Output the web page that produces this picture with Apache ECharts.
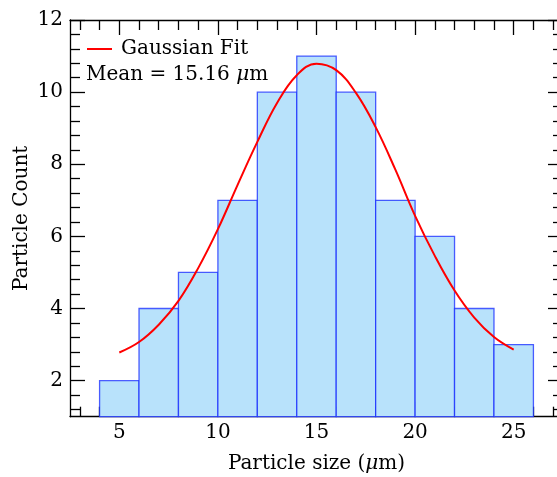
<!DOCTYPE html>
<html>
<head>
<meta charset="utf-8">
<script src="https://cdn.jsdelivr.net/npm/echarts@6/dist/echarts.min.js"></script>
<style>html,body{margin:0;padding:0;background:#fff}#c{width:557px;height:477px}</style>
</head>
<body>
<div id="c"></div>
<script>
// ---- data ----
var binStarts = [4, 6, 8, 10, 12, 14, 16, 18, 20, 22, 24];
var binWidth = 2;
var counts = [2, 4, 5, 7, 10, 11, 10, 7, 6, 4, 3];
var fitX = [5, 6, 7, 8, 9, 10, 11, 12, 13, 14, 15, 16, 17, 18, 19, 20, 21, 22, 23, 24, 25];
var fitY = [2.78, 3.07, 3.55, 4.21, 5.12, 6.2, 7.43, 8.62, 9.7, 10.47, 10.79, 10.61, 9.98, 9.03, 7.85, 6.57, 5.46, 4.5, 3.75, 3.21, 2.86];
var xMajorTicks = [5, 10, 15, 20, 25];
var xMinorTicks = [3, 4, 6, 7, 8, 9, 11, 12, 13, 14, 16, 17, 18, 19, 21, 22, 23, 24, 26, 27];
var yMajorTicks = [2, 4, 6, 8, 10, 12];
var yMinorTicks = [1.2, 1.6, 2.4, 2.8, 3.2, 3.6, 4.4, 4.8, 5.2, 5.6, 6.4, 6.8, 7.2, 7.6, 8.4, 8.8, 9.2, 9.6, 10.4, 10.8, 11.2, 11.6];
var xRange = [2.5, 27.5];
var yRange = [1, 12];
var meanText = 'Mean = 15.16 ';

var FONT = 'DejaVu Serif';
var chart = echarts.init(document.getElementById('c'), null, {renderer: 'canvas'});

var histData = binStarts.map(function (s, i) { return [s, s + binWidth, counts[i]]; });
var fitData = fitX.map(function (x, i) { return [x, fitY[i]]; });

function makeX(pos, ticks, len, labels, line, name) {
  var ax = {
    type: 'value', gridIndex: 0, position: pos, min: xRange[0], max: xRange[1],
    axisLine: {show: line, onZero: false, lineStyle: {color: '#000', width: 1.3}},
    axisTick: {show: true, inside: true, length: len, customValues: ticks, lineStyle: {color: '#000', width: 1.3}},
    axisLabel: {show: labels, customValues: ticks, color: '#000', fontFamily: FONT, fontSize: 20, margin: 6},
    splitLine: {show: false}
  };
  if (name) {
    ax.name = name;
    ax.nameLocation = 'middle';
    ax.nameGap = 37;
    ax.nameMoveOverlap = false;
    ax.nameTextStyle = {color: '#000', fontFamily: FONT, fontSize: 20,
      rich: {i: {fontStyle: 'italic', fontFamily: FONT, fontSize: 20, color: '#000'}}};
  }
  return ax;
}
function makeY(pos, ticks, len, labels, line, name) {
  var ax = {
    type: 'value', gridIndex: 0, position: pos, min: yRange[0], max: yRange[1],
    axisLine: {show: line, onZero: false, lineStyle: {color: '#000', width: 1.3}},
    axisTick: {show: true, inside: true, length: len, customValues: ticks, lineStyle: {color: '#000', width: 1.3}},
    axisLabel: {show: labels, customValues: ticks, color: '#000', fontFamily: FONT, fontSize: 20, margin: 7},
    splitLine: {show: false}
  };
  if (name) {
    ax.name = name;
    ax.nameLocation = 'middle';
    ax.nameGap = 38;
    ax.nameMoveOverlap = false;
    ax.nameTextStyle = {color: '#000', fontFamily: FONT, fontSize: 20};
  }
  return ax;
}

var option = {
  backgroundColor: '#fff',
  animation: false,
  grid: {left: 70, top: 20, width: 493, height: 396.7, containLabel: false, outerBoundsMode: 'none'},
  xAxis: [
    makeX('bottom', xMajorTicks, 15, true, true, 'Particle size ({i|μ}m)'),
    makeX('bottom', xMinorTicks, 10, false, false),
    makeX('top', xMajorTicks, 15, false, true),
    makeX('top', xMinorTicks, 10, false, false)
  ],
  yAxis: [
    makeY('left', yMajorTicks, 15, true, true, 'Particle Count'),
    makeY('left', yMinorTicks, 10, false, false),
    makeY('right', yMajorTicks, 15, false, true),
    makeY('right', yMinorTicks, 10, false, false)
  ],
  legend: {
    show: true, left: 87, top: 39, orient: 'vertical', padding: 0,
    icon: 'rect', itemWidth: 25, itemHeight: 2,
    textStyle: {color: '#000', fontFamily: FONT, fontSize: 20, padding: [0, 0, 0, 4]},
    data: [{name: 'Gaussian Fit', itemStyle: {color: '#ff0000'}}]
  },
  graphic: [{
    type: 'text', left: 86, top: 65,
    style: {
      text: '{n|' + meanText + '}{i|μ}{n|m}',
      rich: {
        n: {fontFamily: FONT, fontSize: 20, fill: '#000'},
        i: {fontFamily: FONT, fontSize: 20, fontStyle: 'italic', fill: '#000'}
      }
    }
  }],
  series: [
    {
      name: 'Histogram', type: 'custom', xAxisIndex: 0, yAxisIndex: 0,
      encode: {x: [0, 1], y: 2},
      data: histData, z: 2,
      renderItem: function (params, api) {
        var p0 = api.coord([api.value(0), api.value(2)]);
        var p1 = api.coord([api.value(1), yRange[0]]);
        return {
          type: 'rect',
          shape: {x: p0[0], y: p0[1], width: p1[0] - p0[0], height: p1[1] - p0[1]},
          style: {fill: '#b8e2fb', stroke: 'rgba(20,40,255,0.75)', lineWidth: 1.3}
        };
      }
    },
    {
      name: 'Gaussian Fit', type: 'line', xAxisIndex: 0, yAxisIndex: 0,
      data: fitData, smooth: 0.4, showSymbol: false, symbol: 'none', z: 3,
      lineStyle: {color: '#ff0000', width: 2}, itemStyle: {color: '#ff0000'}
    }
  ]
};
chart.setOption(option);
</script>
</body>
</html>
